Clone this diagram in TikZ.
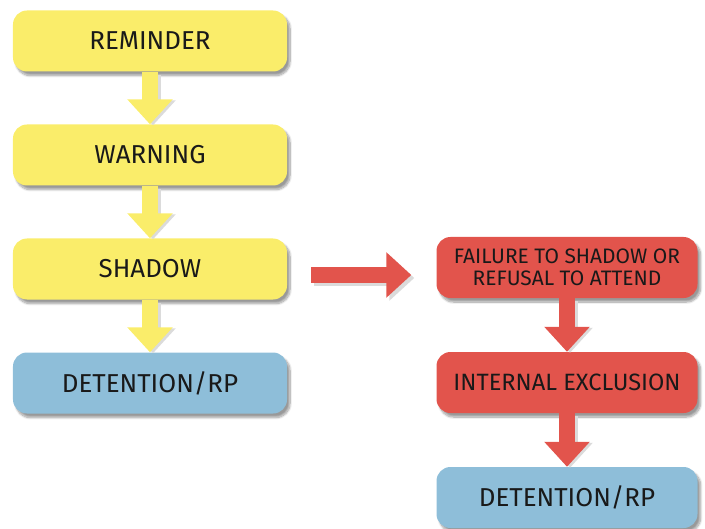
\documentclass[tikz,border=0pt]{standalone}
\usepackage{fontspec}
\setmainfont{Fira Sans}
\usetikzlibrary{arrows.meta,shadows.blur}

\definecolor{boxyellow}{RGB}{250,237,106}
\definecolor{boxred}{RGB}{226,84,76}
\definecolor{boxblue}{RGB}{142,190,217}
\definecolor{textdark}{RGB}{25,25,25}

\tikzset{
  box/.style={rounded corners=14bp, minimum height=61bp, inner sep=0pt,
    align=center, text=textdark,
    blur shadow={shadow xshift=3bp, shadow yshift=-4bp,
      shadow blur steps=10, shadow opacity=40}},
  leftbox/.style={box, minimum width=274bp, font=\fontsize{26}{30}\selectfont},
  rightbox/.style={box, minimum width=261bp, font=\fontsize{26}{30}\selectfont},
  flow/.style={line width=16bp, -{Triangle[width=44bp,length=25bp]}},
  yflow/.style={flow, draw=boxyellow},
  rflow/.style={flow, draw=boxred},
  flowshadow/.style={flow, draw=black!14}
}

\begin{document}
\begin{tikzpicture}[x=1bp, y=-1bp]
  \useasboundingbox (0,0) rectangle (705,529);

  % Left column
  \node[leftbox, fill=boxyellow] (rem)  at (150,41)  {REMINDER};
  \node[leftbox, fill=boxyellow] (warn) at (150,155) {WARNING};
  \node[leftbox, fill=boxyellow] (shad) at (150,269) {SHADOW};
  \node[leftbox, fill=boxblue]   (detl) at (150,383) {DETENTION/RP};

  % Right column
  \node[rightbox, fill=boxred, font=\fontsize{21}{22.5}\selectfont] (fail) at (567,267.5)
    {FAILURE TO SHADOW OR\\REFUSAL TO ATTEND};
  \node[rightbox, fill=boxred, font=\fontsize{23.7}{28}\selectfont] (intx) at (567,382.5)
    {INTERNAL EXCLUSION};
  \node[rightbox, fill=boxblue] (detr) at (567,497.5) {DETENTION/RP};

  % Down arrows
  \foreach \a/\b in {rem/warn, warn/shad, shad/detl} {
    \draw[flowshadow] ([shift={(3bp,-3bp)}]\a.south) -- ([shift={(3bp,-1bp)}]\b.north);
    \draw[yflow] (\a.south) -- (\b.north);
  }
  \foreach \a/\b in {fail/intx, intx/detr} {
    \draw[flowshadow] ([shift={(3bp,-3bp)}]\a.south) -- ([shift={(3bp,-1bp)}]\b.north);
    \draw[rflow] (\a.south) -- (\b.north);
  }

  % Across
  \coordinate (hstart) at ([xshift=24bp,yshift=-6bp]shad.east);
  \coordinate (hend) at (hstart -| fail.west);
  \draw[flowshadow] ([shift={(3bp,-3bp)}]hstart) -- ([shift={(-22bp,-3bp)}]hend);
  \draw[rflow] (hstart) -- ([xshift=-25bp]hend);
\end{tikzpicture}
\end{document}
